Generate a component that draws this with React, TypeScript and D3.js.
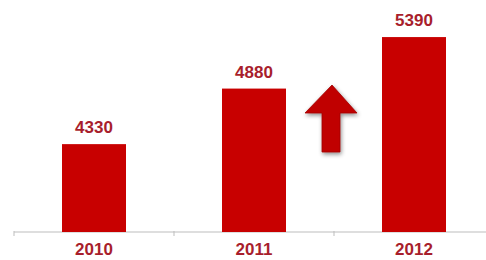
import { useEffect, useRef } from "react";
import * as d3 from "d3";

const years = ["2010", "2011", "2012"];
const values = [4330, 4880, 5390];

export default function App() {
  const svgRef = useRef<SVGSVGElement | null>(null);

  useEffect(() => {
    if (!svgRef.current) return;
    const svg = d3.select(svgRef.current);
    svg.selectAll("*").remove();

    const width = 486;
    const height = 260;
    const baseY = 232;

    const x = d3.scaleBand().domain(years).range([14, 494]).padding(0);
    // axis doesn't start at zero in the original
    const y = d3.scaleLinear().domain([3460, 5460]).range([baseY, baseY - 2000 * 0.101]);
    const barW = x.bandwidth() * 0.4;

    svg.attr("width", width).attr("height", height);

    const defs = svg.append("defs");
    const f = defs.append("filter").attr("id", "shadow").attr("x", "-30%").attr("y", "-30%").attr("width", "160%").attr("height", "160%");
    f.append("feDropShadow").attr("dx", 1).attr("dy", 2).attr("stdDeviation", 2).attr("flood-color", "#000").attr("flood-opacity", 0.45);

    // axis line + ticks
    svg.append("line")
      .attr("x1", 14).attr("x2", width).attr("y1", baseY).attr("y2", baseY)
      .attr("stroke", "#bdbdbd").attr("stroke-width", 1.2);
    svg.selectAll(".tick")
      .data(years)
      .enter()
      .append("line")
      .attr("x1", (d) => x(d)!).attr("x2", (d) => x(d)!)
      .attr("y1", baseY - 1).attr("y2", baseY + 4)
      .attr("stroke", "#bdbdbd");

    // bars
    svg.selectAll(".bar")
      .data(values)
      .enter()
      .append("rect")
      .attr("x", (_, i) => x(years[i])! + x.bandwidth() / 2 - barW / 2)
      .attr("y", (d) => y(d))
      .attr("width", barW)
      .attr("height", (d) => baseY - y(d))
      .attr("fill", "#c80000");

    // value labels
    svg.selectAll(".val")
      .data(values)
      .enter()
      .append("text")
      .attr("x", (_, i) => x(years[i])! + x.bandwidth() / 2)
      .attr("y", (d) => y(d) - 11)
      .attr("text-anchor", "middle")
      .attr("fill", "#a81e2c")
      .style("font-family", "Liberation Sans, Arial, sans-serif")
      .style("font-weight", "bold")
      .style("font-size", "17px")
      .text((d) => d);

    // year labels
    svg.selectAll(".yr")
      .data(years)
      .enter()
      .append("text")
      .attr("x", (d) => x(d)! + x.bandwidth() / 2)
      .attr("y", 255)
      .attr("text-anchor", "middle")
      .attr("fill", "#a81e2c")
      .style("font-family", "Liberation Sans, Arial, sans-serif")
      .style("font-weight", "bold")
      .style("font-size", "17px")
      .text((d) => d);

    // up arrow
    svg.append("path")
      .attr("d", "M332,85 L357,113 L340,113 L340,152 L322,152 L322,113 L305,113 Z")
      .attr("fill", "#c00000")
      .attr("stroke", "#a00000")
      .attr("stroke-width", 0.8)
      .attr("filter", "url(#shadow)");
  }, []);

  return <svg ref={svgRef} style={{ position: "absolute", left: 0, top: 0 }}></svg>;
}
